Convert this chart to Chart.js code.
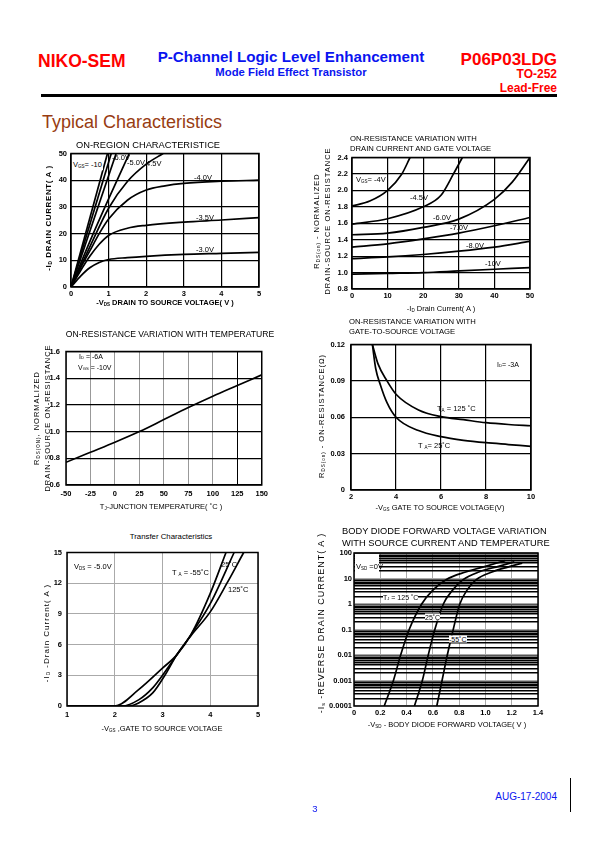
<!DOCTYPE html>
<html>
<head>
<meta charset="utf-8">
<script src="https://cdn.jsdelivr.net/npm/chart.js@4.4.0/dist/chart.umd.min.js"></script>
<style>
body { margin: 0; background: #fff; }
#page { position: relative; width: 595px; height: 842px; overflow: hidden; font-family: "Liberation Sans", Arial, sans-serif; }
.t { position: absolute; white-space: nowrap; line-height: 1; color: #000; z-index: 2; }
.c { transform: translate(-50%, -50%); }
.l { transform: translateY(-50%); }
.rt { transform: translate(-100%, -50%); }
.v { transform: translate(-50%, -50%) rotate(-90deg); }
.b { font-weight: bold; }
sub { font-size: 0.6em; vertical-align: -0.2em; line-height: 0; }
canvas { position: absolute; z-index: 1; }
.red { color: #f00; }
.blue { color: #0a14f0; }
</style>
</head>
<body>
<div id="page">
  <!-- header -->
  <div class="t l b red" style="left:38px;top:62px;font-size:17.5px">NIKO-SEM</div>
  <div class="t c b blue" style="left:291px;top:57px;font-size:15.2px">P-Channel Logic Level Enhancement</div>
  <div class="t c b blue" style="left:291px;top:73px;font-size:11.3px">Mode Field Effect Transistor</div>
  <div class="t rt b red" style="left:557px;top:59px;font-size:17px">P06P03LDG</div>
  <div class="t rt b red" style="left:557px;top:74px;font-size:12px">TO-252</div>
  <div class="t rt b red" style="left:557px;top:88px;font-size:12px">Lead-Free</div>
  <div style="position:absolute;left:41px;top:94px;width:516px;height:3px;background:#000"></div>
  <div class="t l" style="left:42px;top:122px;font-size:18px;color:#983c12">Typical Characteristics</div>

  <!-- chart 1 -->
  <div class="t c" style="left:148px;top:146px;font-size:9.3px">ON-REGION CHARACTERISTICE</div>
  <div class="t v b" style="left:49px;top:218px;font-size:8px;letter-spacing:0.6px">-I<sub>D</sub> DRAIN CURRENT( A )</div>
  <div class="t c b" style="left:165px;top:303px;font-size:7.5px">-V<sub>DS</sub> DRAIN TO SOURCE VOLTAGE( V )</div>
  <div class="t l" style="left:72px;top:165px;font-size:7.5px;background:#fff;padding:1px">V<sub>GS</sub>= -10</div>
  <div class="t l" style="left:112px;top:158px;font-size:7.5px">-6.0V</div>
  <div class="t l" style="left:127px;top:163px;font-size:7.5px">-5.0V</div>
  <div class="t l" style="left:146px;top:164px;font-size:7.5px">4.5V</div>
  <div class="t l" style="left:194px;top:178px;font-size:7.5px">-4.0V</div>
  <div class="t l" style="left:196px;top:218px;font-size:7.5px">-3.5V</div>
  <div class="t l" style="left:196px;top:250px;font-size:7.5px">-3.0V</div>

  <!-- chart 2 -->
  <div class="t l" style="left:350px;top:139px;font-size:7.7px">ON-RESISTANCE VARIATION WITH</div>
  <div class="t l" style="left:350px;top:149px;font-size:7.7px">DRAIN CURRENT AND GATE VOLTAGE</div>
  <div class="t v" style="left:317px;top:221px;font-size:7.5px;letter-spacing:1px">R<sub>DS(on)</sub> - NORMALIZED</div>
  <div class="t v" style="left:328px;top:221px;font-size:7.5px;letter-spacing:1px">DRAIN-SOURCE ON-RESISTANCE</div>
  <div class="t c" style="left:441px;top:309px;font-size:7.5px">-I<sub>D</sub> Drain Current( A )</div>
  <div class="t l" style="left:356px;top:180px;font-size:7.5px">V<sub>GS</sub>= -4V</div>
  <div class="t l" style="left:410px;top:198px;font-size:7.5px">-4.5V</div>
  <div class="t l" style="left:433px;top:218px;font-size:7.5px">-6.0V</div>
  <div class="t l" style="left:450px;top:228px;font-size:7.5px">-7.0V</div>
  <div class="t l" style="left:466px;top:246px;font-size:7.5px">-8.0V</div>
  <div class="t l" style="left:485px;top:264px;font-size:7.5px">-10V</div>

  <!-- chart 3 -->
  <div class="t c" style="left:170px;top:334px;font-size:8.6px">ON-RESISTANCE VARIATION WITH TEMPERATURE</div>
  <div class="t v" style="left:37px;top:418px;font-size:7.5px;letter-spacing:1px">R<sub>DS(ON)</sub>, NORMALIZED</div>
  <div class="t v" style="left:48px;top:418px;font-size:7.5px;letter-spacing:1px">DRAIN-SOURCE ON-RESISTANCE</div>
  <div class="t c" style="left:161px;top:507px;font-size:7.5px">T<sub>J</sub>-JUNCTION TEMPERATURE( ˚C )</div>
  <div class="t l" style="left:79px;top:356px;font-size:7px">I<sub>D</sub> = -6A</div>
  <div class="t l" style="left:78px;top:367px;font-size:7px">V<sub>GS</sub> = -10V</div>

  <!-- chart 4 -->
  <div class="t l" style="left:349px;top:322px;font-size:7.7px">ON-RESISTANCE VARIATION WITH</div>
  <div class="t l" style="left:349px;top:332px;font-size:7.7px">GATE-TO-SOURCE VOLTAGE</div>
  <div class="t v" style="left:322px;top:416px;font-size:7.5px;letter-spacing:1px">R<sub>DS(on)</sub> - ON-RESISTANCE(Ω)</div>
  <div class="t c" style="left:440px;top:508px;font-size:7.5px">-V<sub>GS</sub> GATE TO SOURCE VOLTAGE(V)</div>
  <div class="t l" style="left:497px;top:364px;font-size:7px">I<sub>D</sub>= -3A</div>
  <div class="t l" style="left:437px;top:409px;font-size:7.5px">T<sub>A</sub> = 125 ˚C</div>
  <div class="t l" style="left:418px;top:446px;font-size:7.5px">T <sub>A</sub>= 25˚C</div>

  <!-- chart 5 -->
  <div class="t c" style="left:171px;top:537px;font-size:7.8px">Transfer Characteristics</div>
  <div class="t v" style="left:47px;top:633px;font-size:8px;letter-spacing:1px">-I<sub>D</sub> -Drain Current( A )</div>
  <div class="t c" style="left:162px;top:729px;font-size:7.5px">-V<sub>GS</sub> ,GATE TO SOURCE VOLTAGE</div>
  <div class="t l" style="left:74px;top:567px;font-size:7.5px">V<sub>DS</sub> = -5.0V</div>
  <div class="t l" style="left:172px;top:573px;font-size:7.5px">T <sub>A</sub> = -55˚C</div>
  <div class="t l" style="left:221px;top:565px;font-size:7.5px">25˚C</div>
  <div class="t l" style="left:228px;top:590px;font-size:7.5px">125˚C</div>

  <!-- chart 6 -->
  <div class="t l" style="left:342px;top:532px;font-size:9.3px">BODY DIODE FORWARD VOLTAGE VARIATION</div>
  <div class="t l" style="left:342px;top:544px;font-size:9.3px">WITH SOURCE CURRENT AND TEMPERATURE</div>
  <div class="t v" style="left:321px;top:623px;font-size:9px;letter-spacing:1px">-I<sub>s</sub> -REVERSE DRAIN CURRENT( A )</div>
  <div class="t c" style="left:447px;top:725px;font-size:7.5px">-V<sub>SD</sub> - BODY DIODE FORWARD VOLTAGE( V )</div>
  <div style="position:absolute;left:355px;top:554px;width:24px;height:19px;background:#fff;z-index:2"></div>
  <div class="t l" style="left:356px;top:567px;font-size:7.5px">V<sub>SD</sub> =0V</div>
  <div class="t l" style="left:383px;top:597px;font-size:7px;background:#fff">T<sub>J</sub> = 125 ˚C</div>
  <div class="t l" style="left:425px;top:617px;font-size:7px;background:#fff">25˚C</div>
  <div class="t l" style="left:449px;top:639px;font-size:7px;background:#fff">-55˚C</div>

  <!-- footer -->
  <div class="t c blue" style="left:315px;top:809px;font-size:9.5px">3</div>
  <div class="t rt blue" style="left:557px;top:797px;font-size:10px">AUG-17-2004</div>
  <div style="position:absolute;left:570px;top:778px;width:1px;height:34px;background:#000"></div>
</div>

<script>
const FONT = '"Liberation Sans", Arial, sans-serif';

// ON-region characteristic: -ID (A) against -VDS (V), one curve per VGS
const onGates = ['-10V', '-8V', '-6.0V', '-5.0V', '-4.5V', '-4.0V', '-3.5V', '-3.0V'];
const onVds = [
  [0, 0.97],
  [0, 1.07],
  [0, 1.2],
  [0, 0.5, 1, 1.55],
  [0, 0.5, 1, 1.5, 2, 2.45],
  [0, 0.25, 0.5, 0.75, 1, 1.5, 2, 2.5, 3, 4, 5],
  [0, 0.25, 0.5, 0.75, 1, 1.5, 2, 3, 4, 5],
  [0, 0.25, 0.5, 0.75, 1, 1.5, 2, 3, 4, 5]
];
const onId = [
  [0, 50],
  [0, 50],
  [0, 50],
  [0, 17, 33, 50],
  [0, 15, 29.5, 39.5, 46, 50],
  [0, 7, 13.5, 20, 25.5, 32.5, 36.3, 37.9, 38.8, 39.6, 40],
  [0, 6, 11.5, 16, 19.3, 22, 23.1, 24.3, 25.1, 26],
  [0, 4, 7.2, 9.2, 10.3, 11, 11.5, 12.2, 12.6, 13]
];
const onVdsTicks = [0, 1, 2, 3, 4, 5];
const onIdTicks = [0, 10, 20, 30, 40, 50];

// normalized on-resistance against drain current
const rdsIdGates = ['-4V', '-4.5V', '-6.0V', '-7.0V', '-8.0V', '-10V'];
const rdsIdCurrent = [
  [0, 5, 10, 14, 16.3],
  [0, 10, 20, 25, 28.5, 31],
  [0, 10, 20, 30, 40, 45, 50],
  [0, 10, 20, 30, 40, 50],
  [0, 10, 20, 30, 40, 50],
  [0, 10, 20, 30, 40, 50]
];
const rdsIdNorm = [
  [1.81, 1.87, 2.0, 2.2, 2.4],
  [1.59, 1.655, 1.8, 1.94, 2.2, 2.4],
  [1.46, 1.48, 1.55, 1.65, 1.89, 2.1, 2.4],
  [1.31, 1.35, 1.41, 1.48, 1.57, 1.67],
  [1.17, 1.19, 1.22, 1.26, 1.31, 1.38],
  [0.98, 0.99, 1.0, 1.02, 1.04, 1.06]
];
const rdsIdXTicks = [0, 10, 20, 30, 40, 50];
const rdsIdYTicks = [0.8, 1.0, 1.2, 1.4, 1.6, 1.8, 2.0, 2.2, 2.4];

// normalized on-resistance against junction temperature
const tempC = [-50, -25, 0, 25, 50, 75, 100, 125, 150];
const rdsTempNorm = [0.77, 0.845, 0.92, 1.0, 1.09, 1.18, 1.265, 1.345, 1.425];
const tempTicks = [-50, -25, 0, 25, 50, 75, 100, 125, 150];
const rdsTempTicks = [0.6, 0.8, 1.0, 1.2, 1.4, 1.6];

// on-resistance (ohm) against gate voltage
const rdsVgsTemps = ['125C', '25C'];
const rdsVgsVolts = [
  [2.95, 3.2, 3.6, 4, 5, 6, 7, 8, 9, 10],
  [2.95, 3.1, 3.3, 3.6, 4, 5, 6, 7, 8, 9, 10]
];
const rdsVgsOhm = [
  [0.12, 0.104, 0.09, 0.079, 0.066, 0.0605, 0.058, 0.0555, 0.054, 0.053],
  [0.12, 0.1, 0.087, 0.072, 0.06, 0.049, 0.044, 0.041, 0.039, 0.0375, 0.036]
];
const rdsVgsXTicks = [2, 4, 6, 8, 10];
const rdsVgsYTicks = [0, 0.03, 0.06, 0.09, 0.12];

// transfer characteristics
const transferTemps = ['-55C', '25C', '125C'];
const transferVgs = [
  [1, 2, 2.5, 3, 3.3, 3.6, 4, 4.33],
  [1, 2.15, 2.5, 2.8, 3, 3.3, 3.6, 4, 4.5],
  [1, 2.3, 2.5, 2.8, 3.05, 3.3, 3.6, 4, 4.35, 4.7]
];
const transferId = [
  [0, 0, 1.6, 3.7, 5, 7, 11, 15],
  [0, 0, 0.6, 1.8, 3, 5, 7, 10, 15],
  [0, 0, 0.3, 1.3, 3, 5, 6.9, 9.2, 12, 15]
];
const transferXTicks = [1, 2, 3, 4, 5];
const transferYTicks = [0, 3, 6, 9, 12, 15];

// body diode forward voltage
const diodeTemps = ['125C', '25C', '-55C'];
const diodeVsd = [
  [0.23, 0.30, 0.355, 0.42, 0.515, 0.6, 0.7, 0.85, 1.0, 1.15],
  [0.46, 0.52, 0.565, 0.615, 0.68, 0.75, 0.83, 0.95, 1.1, 1.22],
  [0.63, 0.67, 0.71, 0.755, 0.805, 0.86, 0.93, 1.05, 1.17, 1.28]
];
const diodeIs = [
  [0.0001, 0.001, 0.01, 0.1, 1, 3.5, 9, 18, 30, 50],
  [0.0001, 0.001, 0.01, 0.1, 1, 3.5, 9, 18, 30, 45],
  [0.0001, 0.001, 0.01, 0.1, 1, 3.5, 9, 18, 28, 40]
];
const diodeXTicks = [0, 0.2, 0.4, 0.6, 0.8, 1.0, 1.2, 1.4];
const diodeDecades = [0.0001, 0.001, 0.01, 0.1, 1, 10, 100];

// box round the plot area
const frame = {
  id: 'frame',
  afterDraw(chart) {
    const a = chart.chartArea, ctx = chart.ctx;
    ctx.save();
    ctx.strokeStyle = '#000';
    ctx.lineWidth = 1.5;
    ctx.strokeRect(a.left, a.top, a.right - a.left, a.bottom - a.top);
    ctx.restore();
  }
};

function axis(o, size) {
  return {
    type: o.type || 'linear',
    min: o.min,
    max: o.max,
    afterBuildTicks: s => { s.ticks = o.ticks.map(v => ({ value: v })); },
    afterFit: s => { if (s.isHorizontal()) s.height = size; else s.width = size; },
    ticks: {
      autoSkip: false, maxRotation: 0, padding: o.pad, color: '#000',
      font: { family: FONT, size: o.fs || 7.5, weight: 'bold' },
      callback: o.fmt || (v => String(v))
    },
    grid: { color: o.grid || '#000', lineWidth: o.lw || 1.2, drawTicks: false },
    border: { display: false }
  };
}

function drawChart(box, xs, ys, xAxis, yAxis) {
  const [L, T, R, B] = box;
  const padL = 46, padT = 8, padR = 10, padB = 22;
  const cv = document.createElement('canvas');
  cv.width = R - L + padL + padR;
  cv.height = B - T + padT + padB;
  cv.style.left = (L - padL) + 'px';
  cv.style.top = (T - padT) + 'px';
  document.getElementById('page').appendChild(cv);

  const datasets = xs.map((xv, i) => ({
    data: xv.map((x, j) => ({ x: x, y: ys[i][j] })),
    showLine: true,
    borderColor: '#000',
    borderWidth: 1.7,
    pointRadius: 0,
    cubicInterpolationMode: 'monotone'
  }));

  new Chart(cv, {
    type: 'scatter',
    data: { datasets: datasets },
    options: {
      responsive: false,
      animation: false,
      devicePixelRatio: 1,
      layout: { padding: { left: 0, top: padT, right: padR, bottom: 0 } },
      plugins: { legend: { display: false }, tooltip: { enabled: false } },
      scales: { x: axis(xAxis, padB), y: axis(yAxis, padL) }
    },
    plugins: [frame]
  });
}

const fix1 = v => v.toFixed(1);

drawChart([71, 153, 259, 287], onVds, onId,
  { min: 0, max: 5, ticks: onVdsTicks, pad: 2 },
  { min: 0, max: 50, ticks: onIdTicks, pad: 4 });

drawChart([352, 157, 530, 289], rdsIdCurrent, rdsIdNorm,
  { min: 0, max: 50, ticks: rdsIdXTicks, pad: 2 },
  { min: 0.8, max: 2.4, ticks: rdsIdYTicks, pad: 4, fmt: fix1 });

drawChart([66, 349, 262, 485], [tempC], [rdsTempNorm],
  { min: -50, max: 150, ticks: tempTicks, pad: 4, lw: 1,
    grid: c => (c.tick && c.tick.value === 125) ? '#000' : '#999' },
  { min: 0.6, max: 1.6, ticks: rdsTempTicks, pad: 6, fmt: fix1 });

drawChart([351, 342, 531, 490], rdsVgsVolts, rdsVgsOhm,
  { min: 2, max: 10, ticks: rdsVgsXTicks, pad: 2 },
  { min: 0, max: 0.12, ticks: rdsVgsYTicks, pad: 6, fmt: v => v === 0 ? '0' : v.toFixed(2) });

drawChart([67, 551, 258, 706], transferVgs, transferId,
  { min: 1, max: 5, ticks: transferXTicks, pad: 4, grid: '#aaa', lw: 1 },
  { min: 0, max: 15, ticks: transferYTicks, pad: 5, grid: '#aaa', lw: 1 });

const diodeYTicks = diodeDecades.slice(0, -1)
  .flatMap(d => [d, 2 * d, 3 * d, 4 * d, 5 * d, 6 * d, 7 * d, 8 * d, 9 * d])
  .concat([100]);

drawChart([354, 553, 538, 706], diodeVsd, diodeIs,
  { min: 0, max: 1.4, ticks: diodeXTicks, pad: 2, grid: '#aaa', lw: 1,
    fmt: v => v === 0 ? '0' : v.toFixed(1) },
  { type: 'logarithmic', min: 0.0001, max: 100, ticks: diodeYTicks, pad: 2,
    grid: c => (c.tick && diodeDecades.includes(c.tick.value)) ? '#aaa' : '#000', lw: 1.4,
    fmt: v => diodeDecades.includes(v) ? String(v) : '' });
</script>
</body>
</html>
